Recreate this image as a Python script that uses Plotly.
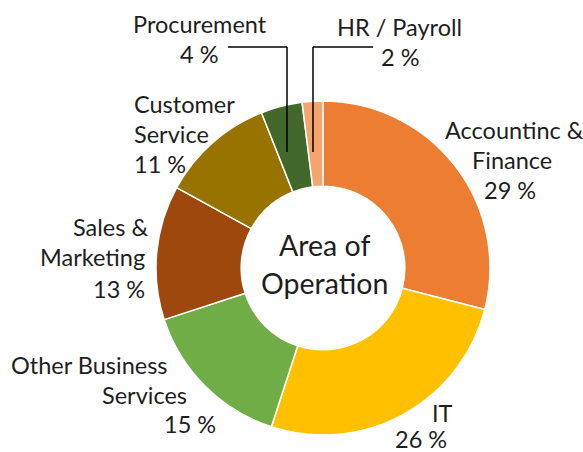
import plotly.graph_objects as go

W, H = 583, 452

categories = ["Accountinc & Finance", "IT", "Other Business Services",
              "Sales & Marketing", "Customer Service", "Procurement", "HR / Payroll"]
values = [29, 26, 15, 13, 11, 4, 2]
label_lines = [["Accountinc &", "Finance"], ["IT"], ["Other Business", "Services"],
               ["Sales &", "Marketing"], ["Customer", "Service"], ["Procurement"], ["HR / Payroll"]]
center_title = ["Area of", "Operation"]

colors = ["#ED7D31", "#FFC000", "#70AD47", "#9E480E", "#997300", "#43682B", "#F4A46C"]

# label line layout (pixel x, baseline y, anchor) per category, one entry per text line
label_pos = [
    [(514, 138, "center"), (512, 168, "center"), (510, 198, "center")],
    [(442, 421, "center"), (421, 447, "center")],
    [(89, 373, "center"), (144, 403, "center"), (190, 432, "center")],
    [(150, 235, "right"), (147, 265, "right"), (147, 297, "right")],
    [(132, 112, "left"), (132, 142, "left"), (132, 172, "left")],
    [(200, 32, "center"), (199, 62, "center")],
    [(399, 35, "center"), (400, 65, "center")],
]

FONT = "Lato"
FS = 23.5
CFS = 28.5
cx, cy, R = 323, 268, 167

fig = go.Figure(go.Pie(
    labels=categories, values=values, sort=False, direction="clockwise", rotation=0,
    hole=0.49, textinfo="none", hoverinfo="label+percent",
    marker=dict(colors=colors, line=dict(color="white", width=1.5)),
    domain=dict(x=[(cx - R) / W, (cx + R) / W], y=[1 - (cy + R) / H, 1 - (cy - R) / H]),
    showlegend=False,
))

def px2paper(x, y):
    return x / W, 1 - y / H

annotations = []
for lines, val, poss in zip(label_lines, values, label_pos):
    texts = lines + [f"{val} %"]
    for t, (x, y, anc) in zip(texts, poss):
        px, py = px2paper(x, y - 0.34 * FS)
        annotations.append(dict(x=px, y=py, xref="paper", yref="paper", text=t, showarrow=False,
                                xanchor=anc, yanchor="middle",
                                font=dict(family=FONT, size=FS, color="#1e1e1e")))

for t, (x, y) in zip(center_title, [(325, 255), (324, 293)]):
    px, py = px2paper(x, y - 0.34 * CFS)
    annotations.append(dict(x=px, y=py, xref="paper", yref="paper", text=t, showarrow=False,
                            xanchor="center", yanchor="middle",
                            font=dict(family=FONT, size=CFS, color="#1e1e1e")))

shapes = []
for pts in [[(228, 47), (287, 47), (287, 152)], [(373, 47), (313, 47), (313, 152)]]:
    for (x0, y0), (x1, y1) in zip(pts[:-1], pts[1:]):
        a0, b0 = px2paper(x0, y0)
        a1, b1 = px2paper(x1, y1)
        shapes.append(dict(type="line", xref="paper", yref="paper", x0=a0, y0=b0, x1=a1, y1=b1,
                           line=dict(color="black", width=1.5)))

fig.update_layout(width=W, height=H, margin=dict(l=0, r=0, t=0, b=0),
                  paper_bgcolor="white", plot_bgcolor="white",
                  annotations=annotations, shapes=shapes)

fig.write_html("out.html", config={"displayModeBar": False},
               post_script="document.body.style.margin='0';")
